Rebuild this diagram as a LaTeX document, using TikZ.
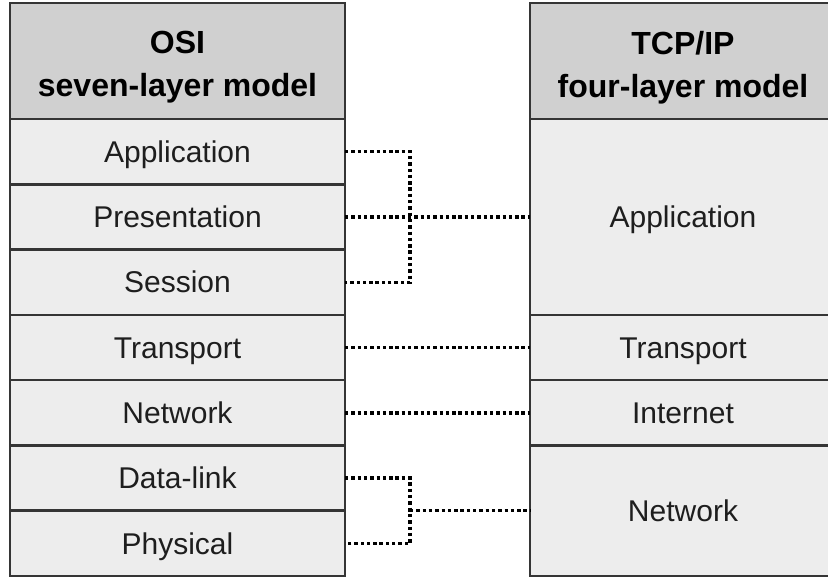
\documentclass[tikz,border=0pt]{standalone}
\usepackage{fontspec}
\setmainfont{Liberation Sans}
\definecolor{edgegray}{HTML}{353535}
\definecolor{headfill}{HTML}{D0D0D0}
\definecolor{rowfill}{HTML}{EDEDED}
\definecolor{inkgray}{HTML}{1E1E1E}
\tikzset{
  layer/.style={draw=edgegray,line width=2.6pt,fill=rowfill,inner sep=0pt,outer sep=0pt,
    text=inkgray,text height=21.5pt,text depth=0pt,font=\fontsize{30}{34}\selectfont},
  head/.style={draw=edgegray,line width=2.6pt,fill=headfill,inner sep=0pt,outer sep=0pt},
  headtext/.style={align=center,text=black,inner sep=0pt,font=\bfseries\fontsize{32}{43}\selectfont},
  dotline/.style={line width=3.4pt,dash pattern=on 3.4pt off 2.9pt,black}
}
\begin{document}
\begin{tikzpicture}[x=1pt,y=-1pt]
  \useasboundingbox[fill=white] (0,0) rectangle (828,579);
  \clip (0,0) rectangle (828,579);
  \node[head,minimum width=335pt,minimum height=116pt,
    label={[headtext,yshift=-6pt]center:{OSI\\seven-layer model}}] (osi) at (177.5,61) {};
  \node[layer,minimum width=335pt,minimum height=65.3pt] (app) at (177.5,151.6) {Application};
  \node[layer,minimum width=335pt,minimum height=65.3pt] (pres) at (177.5,216.9) {Presentation};
  \node[layer,minimum width=335pt,minimum height=65.3pt] (sess) at (177.5,282.2) {Session};
  \node[layer,minimum width=335pt,minimum height=65.3pt] (trans) at (177.5,347.5) {Transport};
  \node[layer,minimum width=335pt,minimum height=65.3pt] (net) at (177.5,412.8) {Network};
  \node[layer,minimum width=335pt,minimum height=65.3pt] (dl) at (177.5,478.1) {Data-link};
  \node[layer,minimum width=335pt,minimum height=65.3pt] (phys) at (177.5,543.4) {Physical};
  \node[head,minimum width=306pt,minimum height=117pt,
    label={[headtext,yshift=-6pt]center:{TCP/IP\\four-layer model}}] (tcp) at (683,61.5) {};
  \node[layer,minimum width=306pt,minimum height=195.9pt] (tapp) at (683,216.9) {Application};
  \node[layer,minimum width=306pt,minimum height=65.3pt] (ttrans) at (683,347.5) {Transport};
  \node[layer,minimum width=306pt,minimum height=65.3pt] (tint) at (683,412.8) {Internet};
  \node[layer,minimum width=306pt,minimum height=130.6pt] (tnet) at (683,510.75) {Network};
  \coordinate (upper) at (410,216.9);
  \coordinate (lower) at (410,510.75);
  \draw[dotline] (app.east) -| (upper) |- (sess.east);
  \draw[dotline] (pres.east) -- (tapp.west);
  \draw[dotline] (trans.east) -- (ttrans.west);
  \draw[dotline] (net.east) -- (tint.west);
  \draw[dotline] (dl.east) -| (lower) |- (phys.east);
  \draw[dotline] (lower) -- (tnet.west);
\end{tikzpicture}
\end{document}
